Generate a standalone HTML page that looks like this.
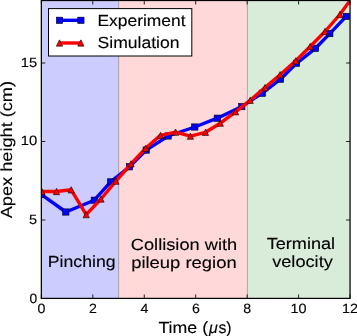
<!DOCTYPE html><html><head><meta charset="utf-8"><style>html,body{margin:0;padding:0;background:#fff;overflow:hidden}svg{display:block;will-change:transform}</style></head><body><svg width="357" height="336" viewBox="0 0 357 336">
<defs><clipPath id="ax"><rect x="41.35" y="0.50" width="308.70" height="297.90"/></clipPath></defs>
<rect width="357" height="336" fill="#fff"/>
<rect x="41.35" y="0.5" width="77.25" height="297.9" fill="#ccccff"/>
<rect x="118.60" y="0.5" width="128.85" height="297.9" fill="#ffd9d9"/>
<rect x="247.45" y="0.5" width="102.60" height="297.9" fill="#d9ecd9"/>
<line x1="118.60" y1="0.5" x2="118.60" y2="298.4" stroke="#a8a4ac" stroke-width="1.1"/>
<line x1="247.45" y1="0.5" x2="247.45" y2="298.4" stroke="#aeb0ac" stroke-width="1.1"/>
<g clip-path="url(#ax)">
<polyline points="41.5,194.6 65.8,212.0 94.3,200.2 110.7,181.9 129.5,166.8 146.2,150.1 168.1,136.0 194.8,127.0 217.3,118.2 241.8,106.6 262.3,93.2 280.5,79.2 296.5,63.3 315.5,48.3 329.8,33.6 346.2,16.4" fill="none" stroke="#0000ff" stroke-width="3.4" stroke-linejoin="round" stroke-linecap="butt"/>
<rect x="38.35" y="191.45" width="6.3" height="6.3" fill="#0000ff" stroke="#000" stroke-width="0.6"/>
<rect x="62.65" y="208.85" width="6.3" height="6.3" fill="#0000ff" stroke="#000" stroke-width="0.6"/>
<rect x="91.15" y="197.05" width="6.3" height="6.3" fill="#0000ff" stroke="#000" stroke-width="0.6"/>
<rect x="107.55" y="178.75" width="6.3" height="6.3" fill="#0000ff" stroke="#000" stroke-width="0.6"/>
<rect x="126.35" y="163.65" width="6.3" height="6.3" fill="#0000ff" stroke="#000" stroke-width="0.6"/>
<rect x="143.05" y="146.95" width="6.3" height="6.3" fill="#0000ff" stroke="#000" stroke-width="0.6"/>
<rect x="164.95" y="132.85" width="6.3" height="6.3" fill="#0000ff" stroke="#000" stroke-width="0.6"/>
<rect x="191.65" y="123.85" width="6.3" height="6.3" fill="#0000ff" stroke="#000" stroke-width="0.6"/>
<rect x="214.15" y="115.05" width="6.3" height="6.3" fill="#0000ff" stroke="#000" stroke-width="0.6"/>
<rect x="238.65" y="103.45" width="6.3" height="6.3" fill="#0000ff" stroke="#000" stroke-width="0.6"/>
<rect x="259.15" y="90.05" width="6.3" height="6.3" fill="#0000ff" stroke="#000" stroke-width="0.6"/>
<rect x="277.35" y="76.05" width="6.3" height="6.3" fill="#0000ff" stroke="#000" stroke-width="0.6"/>
<rect x="293.35" y="60.15" width="6.3" height="6.3" fill="#0000ff" stroke="#000" stroke-width="0.6"/>
<rect x="312.35" y="45.15" width="6.3" height="6.3" fill="#0000ff" stroke="#000" stroke-width="0.6"/>
<rect x="326.65" y="30.45" width="6.3" height="6.3" fill="#0000ff" stroke="#000" stroke-width="0.6"/>
<rect x="343.05" y="13.25" width="6.3" height="6.3" fill="#0000ff" stroke="#000" stroke-width="0.6"/>
<polyline points="41.8,191.5 56.5,191.5 71.2,189.8 86.2,214.6 101.0,199.0 115.9,181.2 131.0,163.8 145.6,148.3 160.5,135.4 175.6,132.2 190.4,136.2 205.5,132.3 220.3,123.2 235.5,111.8 250.2,100.3 265.0,87.6 280.1,74.7 295.8,60.8 310.2,46.5 325.0,31.5 339.9,14.5 354.8,-6.0" fill="none" stroke="#ff0000" stroke-width="3.4" stroke-linejoin="round" stroke-linecap="butt"/>
<path d="M41.80,188.35 L38.65,194.65 L44.95,194.65 Z" fill="#ff0000" stroke="#000" stroke-width="0.6" stroke-linejoin="miter"/>
<path d="M56.50,188.35 L53.35,194.65 L59.65,194.65 Z" fill="#ff0000" stroke="#000" stroke-width="0.6" stroke-linejoin="miter"/>
<path d="M71.20,186.65 L68.05,192.95 L74.35,192.95 Z" fill="#ff0000" stroke="#000" stroke-width="0.6" stroke-linejoin="miter"/>
<path d="M86.20,211.45 L83.05,217.75 L89.35,217.75 Z" fill="#ff0000" stroke="#000" stroke-width="0.6" stroke-linejoin="miter"/>
<path d="M101.00,195.85 L97.85,202.15 L104.15,202.15 Z" fill="#ff0000" stroke="#000" stroke-width="0.6" stroke-linejoin="miter"/>
<path d="M115.90,178.05 L112.75,184.35 L119.05,184.35 Z" fill="#ff0000" stroke="#000" stroke-width="0.6" stroke-linejoin="miter"/>
<path d="M131.00,160.65 L127.85,166.95 L134.15,166.95 Z" fill="#ff0000" stroke="#000" stroke-width="0.6" stroke-linejoin="miter"/>
<path d="M145.60,145.15 L142.45,151.45 L148.75,151.45 Z" fill="#ff0000" stroke="#000" stroke-width="0.6" stroke-linejoin="miter"/>
<path d="M160.50,132.25 L157.35,138.55 L163.65,138.55 Z" fill="#ff0000" stroke="#000" stroke-width="0.6" stroke-linejoin="miter"/>
<path d="M175.60,129.05 L172.45,135.35 L178.75,135.35 Z" fill="#ff0000" stroke="#000" stroke-width="0.6" stroke-linejoin="miter"/>
<path d="M190.40,133.05 L187.25,139.35 L193.55,139.35 Z" fill="#ff0000" stroke="#000" stroke-width="0.6" stroke-linejoin="miter"/>
<path d="M205.50,129.15 L202.35,135.45 L208.65,135.45 Z" fill="#ff0000" stroke="#000" stroke-width="0.6" stroke-linejoin="miter"/>
<path d="M220.30,120.05 L217.15,126.35 L223.45,126.35 Z" fill="#ff0000" stroke="#000" stroke-width="0.6" stroke-linejoin="miter"/>
<path d="M235.50,108.65 L232.35,114.95 L238.65,114.95 Z" fill="#ff0000" stroke="#000" stroke-width="0.6" stroke-linejoin="miter"/>
<path d="M250.20,97.15 L247.05,103.45 L253.35,103.45 Z" fill="#ff0000" stroke="#000" stroke-width="0.6" stroke-linejoin="miter"/>
<path d="M265.00,84.45 L261.85,90.75 L268.15,90.75 Z" fill="#ff0000" stroke="#000" stroke-width="0.6" stroke-linejoin="miter"/>
<path d="M280.10,71.55 L276.95,77.85 L283.25,77.85 Z" fill="#ff0000" stroke="#000" stroke-width="0.6" stroke-linejoin="miter"/>
<path d="M295.80,57.65 L292.65,63.95 L298.95,63.95 Z" fill="#ff0000" stroke="#000" stroke-width="0.6" stroke-linejoin="miter"/>
<path d="M310.20,43.35 L307.05,49.65 L313.35,49.65 Z" fill="#ff0000" stroke="#000" stroke-width="0.6" stroke-linejoin="miter"/>
<path d="M325.00,28.35 L321.85,34.65 L328.15,34.65 Z" fill="#ff0000" stroke="#000" stroke-width="0.6" stroke-linejoin="miter"/>
<path d="M339.90,11.35 L336.75,17.65 L343.05,17.65 Z" fill="#ff0000" stroke="#000" stroke-width="0.6" stroke-linejoin="miter"/>
<path d="M354.80,-9.15 L351.65,-2.85 L357.95,-2.85 Z" fill="#ff0000" stroke="#000" stroke-width="0.6" stroke-linejoin="miter"/>
</g>
<path d="M41.35,298.4 v-4 M41.35,0.5 v4 M92.80,298.4 v-4 M92.80,0.5 v4 M144.25,298.4 v-4 M144.25,0.5 v4 M195.70,298.4 v-4 M195.70,0.5 v4 M247.15,298.4 v-4 M247.15,0.5 v4 M298.60,298.4 v-4 M298.60,0.5 v4 M350.05,298.4 v-4 M350.05,0.5 v4 M41.35,298.50 h4 M350.05,298.50 h-4 M41.35,220.00 h4 M350.05,220.00 h-4 M41.35,141.50 h4 M350.05,141.50 h-4 M41.35,63.00 h4 M350.05,63.00 h-4" stroke="#000" stroke-width="0.85" fill="none"/>
<rect x="41.35" y="0.5" width="308.70" height="297.9" fill="none" stroke="#000" stroke-width="1.25"/>
<rect x="48.5" y="8.6" width="143.3" height="47.4" fill="#fff" stroke="#000" stroke-width="1"/>
<line x1="59.5" y1="20.3" x2="80.9" y2="20.3" stroke="#0000ff" stroke-width="3.4"/>
<rect x="56.35" y="17.15" width="6.3" height="6.3" fill="#0000ff" stroke="#000" stroke-width="0.6"/>
<rect x="77.75" y="17.15" width="6.3" height="6.3" fill="#0000ff" stroke="#000" stroke-width="0.6"/>
<line x1="59.5" y1="43" x2="80.9" y2="43" stroke="#ff0000" stroke-width="3.4"/>
<path d="M59.50,39.85 L56.35,46.15 L62.65,46.15 Z" fill="#ff0000" stroke="#000" stroke-width="0.6" stroke-linejoin="miter"/>
<path d="M80.90,39.85 L77.75,46.15 L84.05,46.15 Z" fill="#ff0000" stroke="#000" stroke-width="0.6" stroke-linejoin="miter"/>
<g font-family="Liberation Sans, sans-serif" fill="#000" text-rendering="geometricPrecision" stroke="#000" stroke-width="0.12">
<text x="97.42" y="25.8" font-size="16.1" text-anchor="start" textLength="88.18" lengthAdjust="spacingAndGlyphs" >Experiment</text>
<text x="97.52" y="47.8" font-size="16.1" text-anchor="start" textLength="82.07" lengthAdjust="spacingAndGlyphs" >Simulation</text>
<text x="47.8" y="267.3" font-size="16.1" text-anchor="start" textLength="67.81" lengthAdjust="spacingAndGlyphs" >Pinching</text>
<text x="130.82" y="249.6" font-size="16.1" text-anchor="start" textLength="106.33" lengthAdjust="spacingAndGlyphs" >Collision with</text>
<text x="131.15" y="267.5" font-size="16.1" text-anchor="start" textLength="105.54" lengthAdjust="spacingAndGlyphs" >pileup region</text>
<text x="266.73" y="249.3" font-size="16.1" text-anchor="start" textLength="68.43" lengthAdjust="spacingAndGlyphs" >Terminal</text>
<text x="272.18" y="267.4" font-size="16.1" text-anchor="start" textLength="60.62" lengthAdjust="spacingAndGlyphs" >velocity</text>
<text x="158.43" y="332.6" font-size="16.1" text-anchor="start" textLength="49.63" lengthAdjust="spacingAndGlyphs" >Time (</text>
<text x="209.05" y="332.6" font-size="16.1" text-anchor="start" textLength="8.8" lengthAdjust="spacingAndGlyphs" font-style="italic">μ</text>
<text x="218.4" y="332.6" font-size="16.1" text-anchor="start" textLength="13.15" lengthAdjust="spacingAndGlyphs" >s)</text>
<text x="29.4" y="302.5" font-size="13.4" text-anchor="start" textLength="7.69" lengthAdjust="spacingAndGlyphs" >0</text>
<text x="28.98" y="224.0" font-size="13.4" text-anchor="start" textLength="8.11" lengthAdjust="spacingAndGlyphs" >5</text>
<text x="20.68" y="145.0" font-size="13.4" text-anchor="start" textLength="16.47" lengthAdjust="spacingAndGlyphs" >10</text>
<text x="20.68" y="67.1" font-size="13.4" text-anchor="start" textLength="16.47" lengthAdjust="spacingAndGlyphs" >15</text>
<text x="37.55" y="312.8" font-size="13.4" text-anchor="start" textLength="7.9" lengthAdjust="spacingAndGlyphs" >0</text>
<text x="89.0" y="312.8" font-size="13.4" text-anchor="start" textLength="7.9" lengthAdjust="spacingAndGlyphs" >2</text>
<text x="140.45" y="312.8" font-size="13.4" text-anchor="start" textLength="7.9" lengthAdjust="spacingAndGlyphs" >4</text>
<text x="191.9" y="312.8" font-size="13.4" text-anchor="start" textLength="7.9" lengthAdjust="spacingAndGlyphs" >6</text>
<text x="243.35" y="312.8" font-size="13.4" text-anchor="start" textLength="7.9" lengthAdjust="spacingAndGlyphs" >8</text>
<text x="290.5" y="312.8" font-size="13.4" text-anchor="start" textLength="16.0" lengthAdjust="spacingAndGlyphs" >10</text>
<text x="341.95" y="312.8" font-size="13.4" text-anchor="start" textLength="16.0" lengthAdjust="spacingAndGlyphs" >12</text>
</g>
<text transform="translate(12.1,218.3) rotate(-90)" x="0" y="0" font-family="Liberation Sans, sans-serif" font-size="16.1" text-rendering="geometricPrecision" stroke="#000" stroke-width="0.12" textLength="137.36" lengthAdjust="spacingAndGlyphs">Apex height (cm)</text>
</svg></body></html>
